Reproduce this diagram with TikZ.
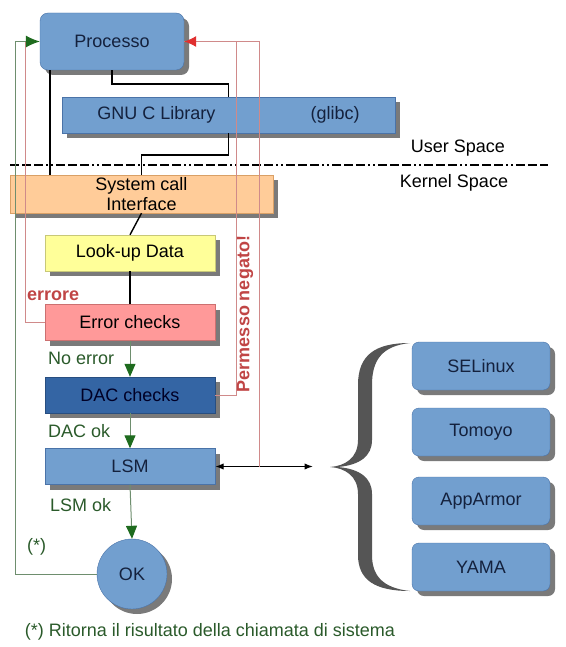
\documentclass[tikz,border=0pt]{standalone}
\usepackage{fontspec}
\setmainfont{Liberation Sans}
\usetikzlibrary{arrows.meta, shadows}

\definecolor{boxblue}{HTML}{729FCF}
\definecolor{boxedge}{HTML}{4A73A8}
\definecolor{navytxt}{HTML}{14213D}
\definecolor{shadowgray}{HTML}{7A7A7A}
\definecolor{sysorange}{HTML}{FFCC99}
\definecolor{sysedge}{HTML}{D9A066}
\definecolor{lookyellow}{HTML}{FFFF99}
\definecolor{lookedge}{HTML}{C8C878}
\definecolor{errpink}{HTML}{FF9999}
\definecolor{erredge}{HTML}{CC7070}
\definecolor{dacblue}{HTML}{3465A4}
\definecolor{dacedge}{HTML}{284E80}
\definecolor{okgreen}{HTML}{1E6B1E}
\definecolor{okline}{HTML}{6E8E6E}
\definecolor{lbltxt}{HTML}{2A5A2A}
\definecolor{errred}{HTML}{C04545}
\definecolor{errline}{HTML}{D08A8A}
\definecolor{arrred}{HTML}{E03030}
\definecolor{bracegray}{HTML}{555555}

\begin{document}
\begin{tikzpicture}[x=1pt, y=-1pt, font=\fontsize{18}{20}\selectfont, >=Latex,
   bx/.style={draw=boxedge, fill=boxblue, text=navytxt, minimum width=170pt, minimum height=36pt, inner sep=1pt,
     drop shadow={opacity=1, fill=shadowgray, shadow xshift=5pt, shadow yshift=-5pt}},
   md/.style={bx, rounded corners=7pt, minimum width=138pt, minimum height=48pt},
   lbl/.style={text=lbltxt, anchor=west, inner sep=0pt},
   blk/.style={line width=1.4pt},
   okln/.style={draw=okline, line width=1pt, -{Triangle[length=13pt, width=11pt, color=okgreen]}},
   denied/.style={draw=errline, line width=1pt},
   returned/.style={draw=okline, line width=1pt}]
\useasboundingbox (0,0) rectangle (565,647);

% user space
\node[bx, rounded corners=8pt, minimum width=144pt, minimum height=57pt] (proc) at (112,41.5) {Processo};
\node[bx, minimum width=333pt] (glibc) at (228.5,115) {GNU C Library\hspace{95pt}(glibc)};
\draw[line width=2.6pt, dash pattern=on 9pt off 3pt on 9pt off 3pt on 9pt off 3pt on 2pt off 3pt on 2pt off 3pt] (10,165) -- (548,165);
\node (usr) at (458,148) {User Space};
\node (krn) at (454,183) {Kernel Space};

% kernel space
\node[bx, fill=sysorange, draw=sysedge, text=black, minimum width=263pt, minimum height=38pt, inner sep=0pt, align=center] (sci) at (141.5,194) {System call\\Interface};
\node[bx, fill=lookyellow, draw=lookedge, text=black] (look) at (130,253) {Look-up Data};
\node[bx, fill=errpink, draw=erredge, text=black] (err) at (130,322.5) {Error checks};
\node[bx, fill=dacblue, draw=dacedge, text=black!85!blue] (dac) at (130,395) {DAC checks};
\node[bx] (lsm) at (130,466.5) {LSM};
\node[bx, circle, minimum size=70pt] (ok) at (132,574) {OK};

% security modules
\foreach \nm/\y [count=\i] in {SELinux/366, Tomoyo/432, AppArmor/501, YAMA/567}
  \node[md] (mod\i) at (481,\y) {\nm};
\fill[bracegray] (410,343) .. controls (375,343) and (358,355) .. (358,385) -- (358,440)
   .. controls (358,458) and (345,466) .. (330,467) .. controls (345,468) and (358,476) .. (358,494)
   -- (358,555) .. controls (358,580) and (375,591) .. (410,591)
   .. controls (382,588) and (372,575) .. (372,555) -- (372,494)
   .. controls (372,478) and (360,469) .. (338,467) .. controls (360,465) and (372,456) .. (372,440)
   -- (372,385) .. controls (372,360) and (382,346) .. (410,343) -- cycle;

\coordinate (brtip) at (313,466.5);
\coordinate (lsmtap) at (259,466.5);
\coordinate (errtop) at (25,41.5);

% call path
\draw[blk] (proc.south) -- ++(0,14) -| (glibc.north);
\draw[blk] (glibc.south) -- ++(0,22) -| (sci.north);
\draw[blk] ([xshift=10pt]proc.south west) -- ([xshift=40pt]sci.north west);
\draw[blk] (sci.south) -- (look.north);
\draw[blk] (look.south) -- (err.north);
\draw[okln] (err.south) -- (dac.north);
\draw[okln] (dac.south) -- (lsm.north);
\draw[okln] (lsm.south) -- (ok.north);
\draw[<->, line width=1.2pt] (lsm.east) -- (brtip);

% return paths
\draw[denied] (lsmtap) |- (proc.east);
\draw[denied, -{Latex[length=12pt, width=11pt, color=arrred]}] (dac.east) -- ++(21,0) |- (proc.east);
\draw[denied] (err.west) -| (errtop);
\draw[returned, -{Latex[length=14pt, width=12pt, color=okgreen]}] (ok.west) -- ++(-81,0) |- (proc.west);

% labels
\node[lbl] (noerr) at (48,358) {No error};
\node[lbl] (dacok) at (48,431) {DAC ok};
\node[lbl] (lsmok) at (50,505) {LSM ok};
\node[lbl] (star) at (27,547) {(*)};
\node[lbl, text=errred, font=\fontsize{18}{20}\selectfont\bfseries] (errore) at (27,296) {errore};
\node[rotate=90, text=errred, font=\fontsize{18}{20}\selectfont\bfseries] (perm) at (245,314) {Permesso negato!};
\node[text=lbltxt] (note) at (210,632) {(*) Ritorna il risultato della chiamata di sistema};
\end{tikzpicture}
\end{document}
